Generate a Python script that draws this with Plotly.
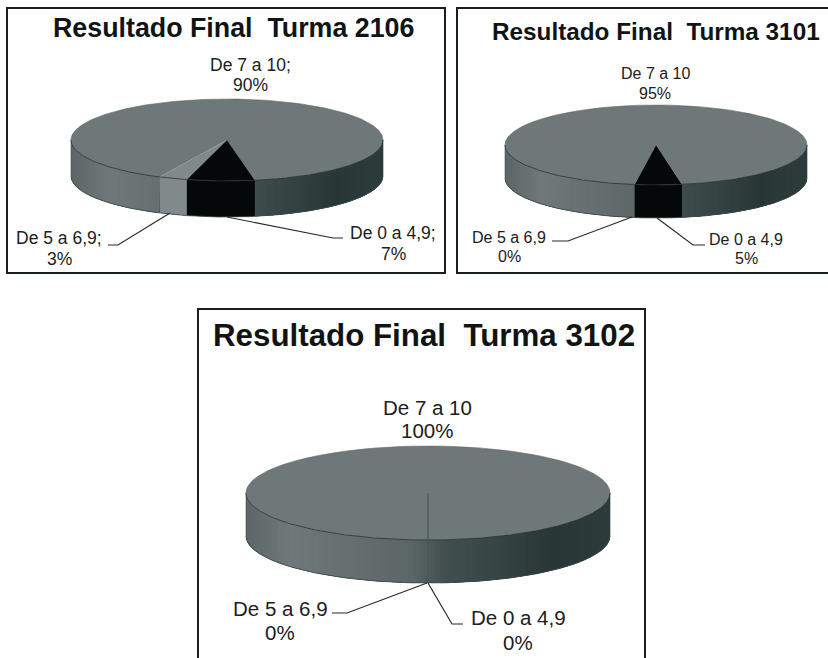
import numpy as np
import plotly.graph_objects as go

categories = ["De 0 a 4,9", "De 5 a 6,9", "De 7 a 10"]
values_2106 = [7, 3, 90]
values_3101 = [5, 0, 95]
values_3102 = [0, 0, 100]
titles = ["Resultado Final\u00a0 Turma 2106", "Resultado Final\u00a0 Turma 3101", "Resultado Final\u00a0 Turma 3102"]

FONT = "Liberation Sans"
INK = "#1c2020"
TOP = {0: "#040808", 1: "#808a8a", 2: "#6e7878"}
SIDE_STOPS = [(0, (92, 102, 102)), (0.12, (112, 121, 121)), (0.45, (92, 102, 102)),
              (0.55, (66, 79, 79)), (0.85, (40, 55, 54)), (1, (46, 60, 60))]

panels = [
    dict(values=values_2106, title=titles[0], sep=";", frame=(7, 8, 445, 273), start=169.7,
         cx=227, cy=140, rx=156, ry=41, depth=36, tsize=26.8, lsize=17.5, tpos=(233, 28),
         lab=[(393, 233, 254), (59, 238, 259), (250, 65, 85)],
         lead=[[(227, 217), (333, 238), (343, 238)], [(170, 213), (118, 245), (108, 245)]]),
    dict(values=values_3101, title=titles[1], sep="", frame=(457, 8, 840, 273), start=170.1,
         cx=656, cy=145, rx=151, ry=40, depth=33, tsize=24.3, lsize=16, tpos=(656, 31),
         lab=[(746, 239, 258), (509, 237, 256), (655, 73, 93)],
         lead=[[(657, 218), (693, 245), (705, 245)], [(632, 217), (568, 241), (552, 241)]]),
    dict(values=values_3102, title=titles[2], sep="", frame=(198, 309, 645, 670), start=180,
         cx=428, cy=493, rx=182, ry=47, depth=43, tsize=31.3, lsize=20.5, tpos=(424, 335),
         lab=[(518, 617, 642), (280, 608, 632), (427, 407, 430)],
         lead=[[(428, 583), (452, 624), (463, 624)], [(427, 583), (347, 613), (332, 613)]]),
]


def side_colour(t):
    for (a, ca), (b, cb) in zip(SIDE_STOPS, SIDE_STOPS[1:]):
        if t <= b:
            f = (t - a) / (b - a)
            return "rgb(%d,%d,%d)" % tuple(round(u + (v - u) * f) for u, v in zip(ca, cb))
    return "rgb(46,60,60)"


fig = go.Figure()


def poly(xs, ys, fill, width=0.0):
    fig.add_trace(go.Scatter(x=list(xs), y=list(ys), mode="lines", fill="toself", fillcolor=fill,
                             line=dict(color=fill, width=width), hoverinfo="skip", showlegend=False))


def path(xs, ys, color, width=1.2):
    fig.add_trace(go.Scatter(x=list(xs), y=list(ys), mode="lines", line=dict(color=color, width=width),
                             hoverinfo="skip", showlegend=False))


annotations = []
shapes = []
for p in panels:
    cx, cy, rx, ry, d = p["cx"], p["cy"], p["rx"], p["ry"], p["depth"]
    ex = lambda a: cx + rx * np.sin(np.radians(a))
    ey = lambda a: cy - ry * np.cos(np.radians(a))
    edges = [p["start"]]
    for v in p["values"]:
        edges.append(edges[-1] + v * 3.6)
    x0, y0, x1, y1 = p["frame"]
    shapes.append(dict(type="rect", xref="x", yref="y", x0=x0, y0=y0, x1=x1, y1=y1,
                       line=dict(color="#1a1e1e", width=2), fillcolor="white", layer="below"))

    # mid-tone base under the whole wall, so no white shows between slices
    whole = np.linspace(90, 270, 181)
    poly(list(ex(whole)) + list(ex(whole[::-1])), list(ey(whole)) + list(ey(whole[::-1]) + d), "rgb(70,82,82)")

    # side wall: later strips paint over the run-on of earlier ones so no seams show
    for i in (2, 1, 0):
        v = p["values"][i]
        if v == 0:
            continue
        a0, a1 = edges[i], edges[i + 1]
        for shift in (0, 360):
            vis0, vis1 = max(a0 - shift, 90), min(a1 - shift, 270)
            if vis1 <= vis0:
                continue
            if i == 2:
                grid = np.unique(np.concatenate([np.arange(vis0, vis1, 1.0), [vis1]]))
                for s, e in zip(grid[:-1], grid[1:]):
                    t = (ex((s + e) / 2) - (cx - rx)) / (2 * rx)
                    arc = np.linspace(s, min(e + 2, vis1), 4)
                    poly(list(ex(arc)) + list(ex(arc[::-1])), list(ey(arc)) + list(ey(arc[::-1]) + d), side_colour(t))
            else:
                arc = np.linspace(vis0, vis1, 40)
                poly(list(ex(arc)) + list(ex(arc[::-1])), list(ey(arc)) + list(ey(arc[::-1]) + d), TOP[i])

    # top faces
    for i in (2, 1, 0):
        v = p["values"][i]
        if v == 0:
            continue
        arc = np.linspace(edges[i], edges[i + 1], 361 if v == 100 else max(int(v * 3.6), 6))
        if v == 100:
            poly(ex(arc), ey(arc), TOP[i])
        else:
            poly([cx] + list(ex(arc)) + [cx], [cy] + list(ey(arc)) + [cy], TOP[i])

    # outline along the rim of the top face and the silhouette
    front = np.linspace(90, 270, 181)
    path(ex(front), ey(front), "#2a3434", 0.8)
    path(ex(front), ey(front) + d, "#3c4848", 0.8)
    back = np.linspace(-90, 90, 181)
    path(ex(back), ey(back), "#5c6666", 0.6)
    path([cx - rx, cx - rx], [cy, cy + d], "#4c5656", 0.6)
    path([cx + rx, cx + rx], [cy, cy + d], "#2c3838", 0.6)

    # slices of zero width still show as a radial seam
    if all(v == 0 for v in p["values"][:2]):
        a = edges[0]
        path([cx, ex(a), ex(a)], [cy, ey(a), ey(a) + d], "#4a5656", 1.2)

    # leader lines
    for lead in p["lead"]:
        path([q[0] for q in lead], [q[1] for q in lead], "#262a2a", 1.2)

    # text
    annotations.append(dict(x=p["tpos"][0], y=p["tpos"][1], text="<b>%s</b>" % p["title"], showarrow=False,
                            xref="x", yref="y", xanchor="center", yanchor="middle",
                            font=dict(family=FONT, size=p["tsize"], color="#101414")))
    for cat, v, (lx, ly1, ly2) in zip(categories, p["values"], p["lab"]):
        for txt, ly in ((cat + p["sep"], ly1), ("%d%%" % v, ly2)):
            annotations.append(dict(x=lx, y=ly, text=txt, showarrow=False, xref="x", yref="y",
                                    xanchor="center", yanchor="middle",
                                    font=dict(family=FONT, size=p["lsize"], color=INK)))

fig.update_layout(
    width=828, height=658, autosize=False,
    margin=dict(l=0, r=0, t=0, b=0),
    paper_bgcolor="white", plot_bgcolor="white", showlegend=False,
    xaxis=dict(range=[0, 828], visible=False, fixedrange=True),
    yaxis=dict(range=[658, 0], visible=False, fixedrange=True),
    shapes=shapes, annotations=annotations,
)
fig.write_html("out.html", config={"displayModeBar": False},
               post_script="document.body.style.margin='0';document.documentElement.style.overflow='hidden';")
